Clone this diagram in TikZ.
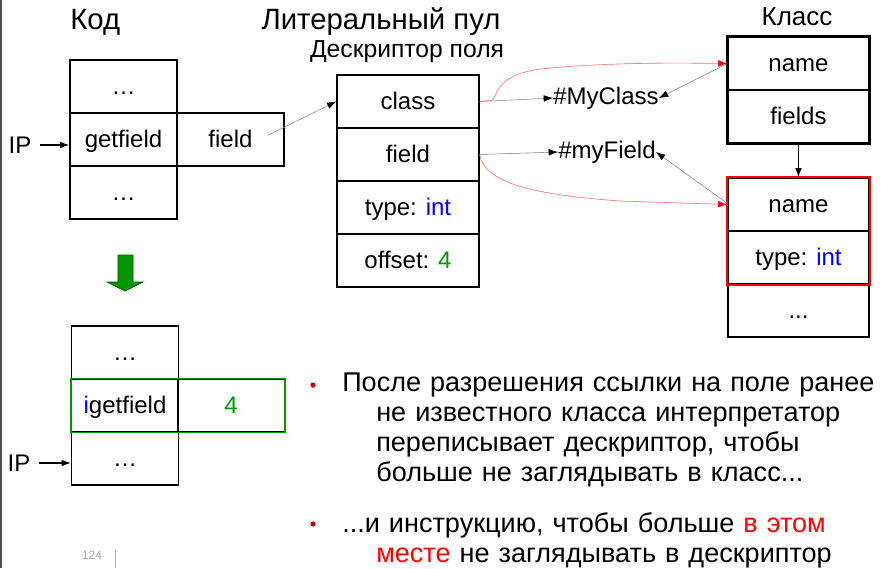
\documentclass[tikz,border=0pt]{standalone}
\usepackage{fontspec}
\setmainfont{Liberation Sans}
\usetikzlibrary{arrows,arrows.meta}
\definecolor{jblue}{RGB}{0,0,255}
\definecolor{jgreen}{RGB}{0,150,0}
\definecolor{jred}{RGB}{255,0,0}
\definecolor{jpink}{RGB}{255,120,120}
\tikzset{
  title/.style = {inner sep=0pt, font=\fontsize{22}{24}\selectfont},
  subtitle/.style = {inner sep=0pt, font=\fontsize{18.5}{20}\selectfont},
  cell/.style = {draw=black, line width=1pt, inner sep=0pt,
    minimum width=80.25pt, minimum height=39.75pt,
    text height=15pt, text depth=3pt,
    font=\fontsize{18}{20}\selectfont},% ячейка кода
  dcell/.style = {cell, minimum width=106.5pt},% ячейка дескриптора
  kcell/.style = {cell, minimum width=105.75pt},% ячейка класса
  ref/.style = {inner sep=0pt, font=\fontsize{18}{20}\selectfont},
  ptr/.style = {-{Latex[length=7pt,width=5pt]}, black, line width=0.8pt},
  link/.style = {-{Latex[black,length=7pt,width=5pt]}, gray, line width=0.4pt},
  resolve/.style = {-{Latex[jred,length=7pt,width=5pt]}, jpink, line width=0.5pt},
  bullet/.style = {inner sep=0pt, anchor=north west, text width=560pt,
    align=left, font=\fontsize{20.3}{22.5}\selectfont}
}

\begin{document}
\begin{tikzpicture}[x=0.75pt, y=-0.75pt]
\useasboundingbox (0,0) rectangle (891,568);
\draw[line width=1.2pt, black!70] (1,0) -- (1,568);

% заголовки
\node[title, anchor=west] (tcode) at (70,22) {Код};
\node[title] (tpool) at (381,22) {Литеральный пул};
\node[subtitle] (tdesc) at (407,52) {Дескриптор поля};
\node[title, font=\fontsize{19.5}{20}\selectfont] (tclass) at (797,17) {Класс};

% код до
\node[cell] (top1) at (123.5,86.5) {…};
\node[cell] (getf) at (123.5,139.5) {getfield};
\node[cell] (fld) at (230.5,139.5) {field};
\node[cell] (bot1) at (123.5,192.5) {…};
\node[ref] (ip1) at (20,145) {IP};
\draw[ptr] (ip1.east) ++(8,0) -- (ip1.east -| getf.west);

% дескриптор поля
\node[dcell] (dclass) at (408,101.5) {class};
\node[dcell] (dfield) at (408,154.5) {field};
\node[dcell] (dtype) at (408,207.5) {type: \textcolor{jblue}{int}};
\node[dcell] (doff) at (408,260.5) {offset: \textcolor{jgreen}{4}};
\draw[link] (fld.center) ++(37,-4) -- (dclass.west);

% символьные ссылки
\node[ref, anchor=west] (myclass) at (553,98) {\#MyClass};
\node[ref, anchor=west] (myfield) at (558,152) {\#myField};
\draw[link] (dclass.east) -- (myclass.west);
\draw[link] (dfield.east) -- (myfield.west);

% класс
\node[kcell] (kname) at (798.5,63.5) {name};
\node[kcell] (kfields) at (798.5,116.5) {fields};
\draw[line width=1.6pt] (kname.north west) rectangle (kfields.south east);
\node[kcell] (fname) at (798.5,204.5) {name};
\node[kcell] (ftype) at (798.5,257.5) {type: \textcolor{jblue}{int}};
\node[kcell] (fmore) at (798.5,310.5) {...};
\draw[draw=jred, line width=1.3pt] (fname.north west) rectangle (ftype.south east);
\draw[ptr] (kfields.south) -- (fname.north);
\draw[link] (kname.west) -- (myclass.east);
\draw[link] (fname.west) ++(0,-1) -- (myfield.east);

% разрешение
\draw[resolve] (dclass.east) -- ++(12,-1)
  .. controls +(6,-2) and (492,76) .. (540,69)
  .. controls (610,62) and (680,63) .. (kname.west);
\draw[resolve] (dfield.east)
  .. controls (485,185) and (540,195) .. (620,201)
  -- (fname.west);

% переход
\draw[fill=jgreen, draw=jgreen!60!black, line width=0.5pt]
  (118,255) -- (133,255) -- (133,282) -- (143,282) -- (125,291)
  -- (107,282) -- (118,282) -- cycle;

% код после
\node[cell] (top2) at (125,352.5) {…};
\node[cell] (igetf) at (125,405.5) {\textcolor{jblue}{i}getfield};
\node[cell] (four) at (231,405.5) {\textcolor{jgreen}{4}};
\node[cell] (bot2) at (125,458.5) {…};
\draw[jgreen, line width=1.2pt] (igetf.north west) rectangle (four.south east);
\node[ref] (ip2) at (19,463) {IP};
\draw[ptr] (ip2.east) ++(8,0) -- (ip2.east -| bot2.west);

% пояснения
\node[bullet] (note1) at (376,373) {\hspace*{-25.5pt}После разрешения ссылки на поле ранее\\
  не известного класса интерпретатор\\
  переписывает дескриптор, чтобы\\
  больше не заглядывать в класс...};
\node[bullet] (note2) at (376,512) {\hspace*{-25.5pt}...и инструкцию, чтобы больше \textcolor{jred}{в этом}\\
  \textcolor{jred}{месте} не заглядывать в дескриптор};
\fill[jred!80!black] (313,385) circle (2.6);
\fill[jred!80!black] (313,524) circle (2.6);

% номер слайда
\node[inner sep=0pt, gray!70, font=\fontsize{9}{10}\selectfont] (page) at (92,555) {124};
\draw[gray!60, line width=0.6pt] (115,550) -- (115,568);
\end{tikzpicture}
\end{document}
